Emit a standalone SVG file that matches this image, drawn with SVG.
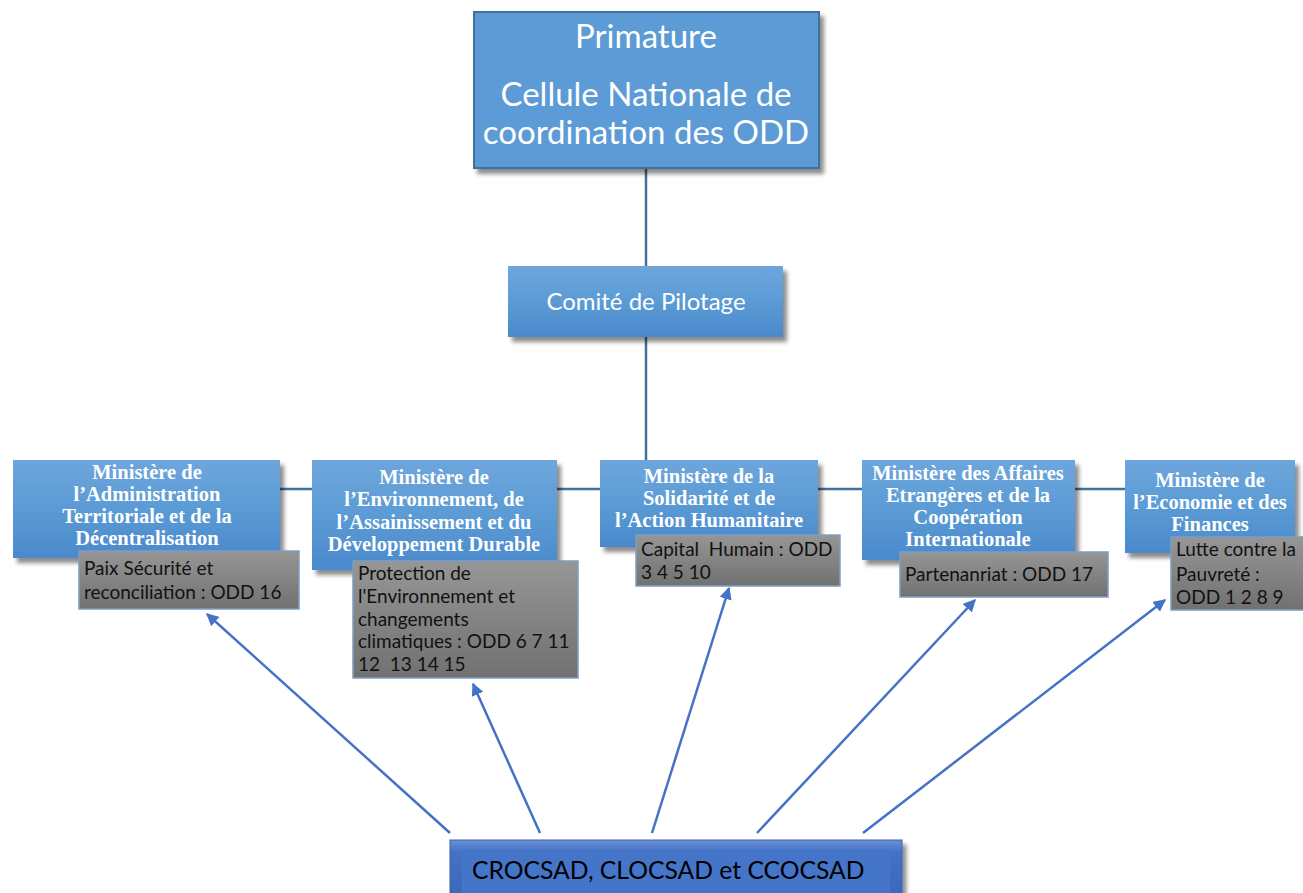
<svg xmlns="http://www.w3.org/2000/svg" width="1303" height="893" viewBox="0 0 1303 893">
<defs>
<linearGradient id="gBlue" x1="0" y1="0" x2="0" y2="1">
<stop offset="0" stop-color="#6ea6dc"/>
<stop offset="0.5" stop-color="#5b9bd5"/>
<stop offset="1" stop-color="#4a89cc"/>
</linearGradient>
<linearGradient id="gGrey" x1="0" y1="0" x2="0" y2="1">
<stop offset="0" stop-color="#969696"/>
<stop offset="1" stop-color="#717171"/>
</linearGradient>
<linearGradient id="gBot" x1="0" y1="0" x2="0" y2="1">
<stop offset="0" stop-color="#6a8fd6"/>
<stop offset="0.2" stop-color="#4472c4"/>
<stop offset="1" stop-color="#3b67b8"/>
</linearGradient>
<filter id="sh" x="-10%" y="-10%" width="125%" height="130%">
<feDropShadow dx="4" dy="5" stdDeviation="2" flood-color="#000" flood-opacity="0.45"/>
</filter>
<marker id="ah" viewBox="0 0 10 10" refX="9" refY="5" markerWidth="5" markerHeight="5" orient="auto" markerUnits="strokeWidth">
<path d="M0,0 L10,5 L0,10 z" fill="#4472c4"/>
</marker>
<style>
.blue{fill:url(#gBlue);}
.top{fill:#5b9bd5;stroke:#41719c;stroke-width:2;}
.grey{fill:url(#gGrey);stroke:#7f9cc0;stroke-width:1.5;}
.wt{font-family:Lato,"Liberation Sans",sans-serif;fill:#fff;text-anchor:middle;}
.tb{font-family:"Liberation Serif",serif;font-weight:bold;fill:#fff;text-anchor:middle;font-size:20.5px;}
.gt{font-family:Lato,"Liberation Sans",sans-serif;fill:#111;font-size:19px;}
.ln{stroke:#41719c;stroke-width:2.5;fill:none;}
.ar{stroke:#4472c4;stroke-width:2.5;fill:none;marker-end:url(#ah);}
</style>
</defs>
<rect width="1303" height="893" fill="#fff"/>
<g id="connectors">
<line class="ln" x1="646" y1="168" x2="646" y2="266"/>
<line class="ln" x1="646" y1="337" x2="646" y2="460"/>
<line class="ln" x1="280" y1="489" x2="1125" y2="489"/>
<line class="ar" x1="450" y1="833" x2="207" y2="614"/>
<line class="ar" x1="540" y1="833" x2="473" y2="684"/>
<line class="ar" x1="652" y1="833" x2="729" y2="588"/>
<line class="ar" x1="757" y1="833" x2="975" y2="600"/>
<line class="ar" x1="863" y1="833" x2="1165" y2="600"/>
</g>
<g id="primature">
<rect class="top" x="474" y="12" width="345" height="156" filter="url(#sh)"/>
<text class="wt" x="646" y="48" font-size="33">Primature</text>
<text class="wt" x="646" y="106" font-size="33">Cellule Nationale de</text>
<text class="wt" x="646" y="144" font-size="33">coordination des ODD</text>
</g>
<g id="comite">
<rect class="blue" x="508" y="266" width="275" height="71" filter="url(#sh)"/>
<text class="wt" x="646" y="310" font-size="24">Comité de Pilotage</text>
</g>
<g id="min1">
<rect class="blue" x="13" y="460" width="267" height="98" filter="url(#sh)"/>
<text class="tb" x="147" y="479">Ministère de</text>
<text class="tb" x="147" y="501">l’Administration</text>
<text class="tb" x="147" y="523">Territoriale et de la</text>
<text class="tb" x="147" y="545">Décentralisation</text>
</g>
<g id="min2">
<rect class="blue" x="312" y="460" width="245" height="110" filter="url(#sh)"/>
<text class="tb" x="434" y="484">Ministère de</text>
<text class="tb" x="434" y="506">l’Environnement, de</text>
<text class="tb" x="434" y="529">l’Assainissement et du</text>
<text class="tb" x="434" y="551">Développement Durable</text>
</g>
<g id="min3">
<rect class="blue" x="600" y="460" width="218" height="87" filter="url(#sh)"/>
<text class="tb" x="709" y="483">Ministère de la</text>
<text class="tb" x="709" y="505">Solidarité et de</text>
<text class="tb" x="709" y="527">l’Action Humanitaire</text>
</g>
<g id="min4">
<rect class="blue" x="862" y="460" width="213" height="100" filter="url(#sh)"/>
<text class="tb" x="968" y="480">Ministère des Affaires</text>
<text class="tb" x="968" y="502">Etrangères et de la</text>
<text class="tb" x="968" y="524">Coopération</text>
<text class="tb" x="968" y="546">Internationale</text>
</g>
<g id="min5">
<rect class="blue" x="1125" y="460" width="170" height="93" filter="url(#sh)"/>
<text class="tb" x="1210" y="487">Ministère de</text>
<text class="tb" x="1210" y="509">l’Economie et des</text>
<text class="tb" x="1210" y="531">Finances</text>
</g>
<g id="odd1">
<rect class="grey" x="79" y="551" width="220" height="58"/>
<text class="gt" x="84" y="575">Paix Sécurité et</text>
<text class="gt" x="84" y="599">reconciliation : ODD 16</text>
</g>
<g id="odd2">
<rect class="grey" x="353" y="561" width="225" height="117"/>
<text class="gt" x="358" y="580">Protection de</text>
<text class="gt" x="358" y="603">l'Environnement et</text>
<text class="gt" x="358" y="626">changements</text>
<text class="gt" x="358" y="648">climatiques : ODD 6 7 11</text>
<text class="gt" x="358" y="671" xml:space="preserve">12  13 14 15</text>
</g>
<g id="odd3">
<rect class="grey" x="636" y="535" width="204" height="51"/>
<text class="gt" x="641" y="556" xml:space="preserve">Capital  Humain : ODD</text>
<text class="gt" x="641" y="579">3 4 5 10</text>
</g>
<g id="odd4">
<rect class="grey" x="900" y="552" width="208" height="45"/>
<text class="gt" x="905" y="581">Partenanriat : ODD 17</text>
</g>
<g id="odd5">
<rect class="grey" x="1171" y="537" width="134" height="73"/>
<text class="gt" x="1176" y="556">Lutte contre la</text>
<text class="gt" x="1176" y="581">Pauvreté :</text>
<text class="gt" x="1176" y="604">ODD 1 2 8 9</text>
</g>
<g id="bottom">
<rect x="450" y="840" width="452" height="60" fill="url(#gBot)" stroke="#3a63ad" stroke-width="1" filter="url(#sh)"/>
<rect x="462" y="850" width="428" height="50" fill="#4575c8"/>
<text x="472" y="879" font-family="Lato,'Liberation Sans',sans-serif" font-size="24.7" fill="#000">CROCSAD, CLOCSAD et CCOCSAD</text>
</g>
</svg>
